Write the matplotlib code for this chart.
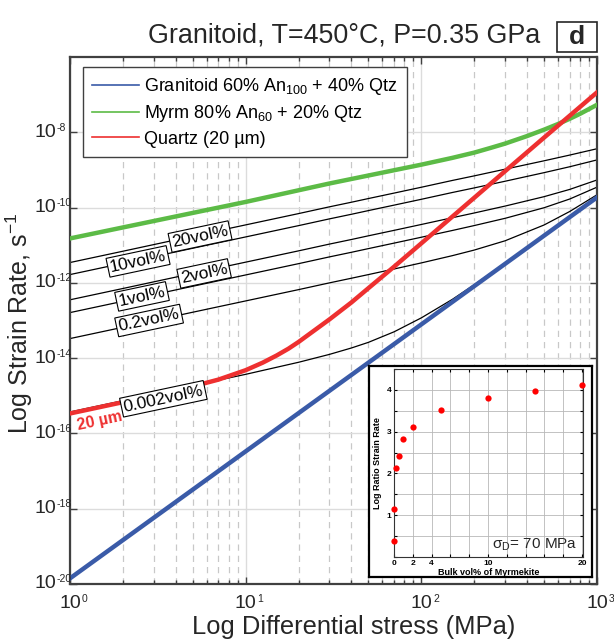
import numpy as np
import matplotlib
matplotlib.use('Agg')
import matplotlib.pyplot as plt
from matplotlib.lines import Line2D
from matplotlib.ticker import NullFormatter, LogLocator, FixedLocator

plt.rcParams['font.family'] = ['Liberation Sans', 'DejaVu Sans']
plt.rcParams['mathtext.fontset'] = 'custom'
plt.rcParams['mathtext.rm'] = 'Liberation Sans'
plt.rcParams['mathtext.it'] = 'Liberation Sans:italic'
plt.rcParams['mathtext.bf'] = 'Liberation Sans:bold'

# differential stress (MPa) and log10 strain rate
granitoid_stress = [1, 1000]
granitoid_log = [-19.85, -9.73]

myrm_stress = [1, 10, 30, 100, 150, 200, 250, 300, 400, 500, 600, 700, 800, 1000]
myrm_log = [-10.82, -9.85, -9.36, -8.86, -8.68, -8.54, -8.41, -8.30, -8.10, -7.93, -7.78, -7.64, -7.51, -7.27]

quartz_stress = [1, 2, 3, 5, 7, 10, 12.5, 15, 17.5, 20, 25, 30, 40, 50, 70, 100, 200, 500, 1000]
quartz_log = [-15.47, -15.17, -14.99, -14.75, -14.57, -14.32, -14.12, -13.93, -13.75, -13.57,
              -13.24, -12.97, -12.52, -12.14, -11.57, -10.95, -9.74, -8.14, -6.94]

# mixtures with myrmekite (black curves)
mix_stress = [1, 2, 5, 10, 20, 30, 40, 50, 70, 100, 150, 200, 300, 500, 700, 1000]
vol_names = ['20vol%', '10vol%', '2vol%', '1vol%', '0.2vol%', '0.002vol%']
vol_log = [
    [-11.46, -11.16, -10.76, -10.46, -10.16, -9.98, -9.858, -9.76, -9.615, -9.46, -9.28, -9.158, -8.98, -8.757, -8.605, -8.437],
    [-11.78, -11.48, -11.08, -10.78, -10.48, -10.30, -10.178, -10.08, -9.935, -9.78, -9.60, -9.478, -9.30, -9.072, -8.915, -8.734],
    [-12.45, -12.15, -11.75, -11.45, -11.15, -10.97, -10.848, -10.75, -10.605, -10.449, -10.27, -10.144, -9.96, -9.71, -9.517, -9.267],
    [-12.79, -12.49, -12.09, -11.79, -11.49, -11.31, -11.188, -11.09, -10.944, -10.788, -10.609, -10.478, -10.285, -10.004, -9.772, -9.458],
    [-13.48, -13.18, -12.78, -12.48, -12.18, -12.00, -11.877, -11.78, -11.631, -11.47, -11.278, -11.129, -10.882, -10.462, -10.103, -9.66],
    [-15.43, -15.13, -14.73, -14.43, -14.11, -13.90, -13.73, -13.58, -13.30, -12.93, -12.44, -12.05, -11.48, -10.74, -10.25, -9.72],
]
# label anchor (stress, log rate)
vol_label_x = [5.5, 2.44, 5.8, 2.57, 2.82, 3.4]
vol_label_logy = [-10.77, -11.43, -11.75, -12.36, -13.0, -15.08]

# inset: bulk vol% of myrmekite vs log ratio of strain rate
inset_vol = [0.002, 0.02, 0.2, 0.5, 1, 2, 5, 10, 15, 20]
inset_ratio = [0.38, 1.14, 2.12, 2.42, 2.82, 3.10, 3.51, 3.81, 3.98, 4.11]

BLUE = '#3a5ba8'
GREEN = '#5cbb46'
RED = '#ee3030'
GREY = '#404040'

W, H = 614, 642
fig = plt.figure(figsize=(W / 100, H / 100), dpi=100)


def fx(px):
    return px / W


def fy(py):
    return 1 - py / H


ax = fig.add_axes([fx(70), fy(584), fx(597) - fx(70), fy(57) - fy(584)])
ax.set_xscale('log')
ax.set_yscale('log')
ax.set_xlim(1, 1000)
ax.set_ylim(1e-20, 1e-6)

# grid
ax.xaxis.set_major_locator(FixedLocator([1, 10, 100, 1000]))
ax.xaxis.set_minor_locator(LogLocator(base=10, subs=np.arange(2, 10)))
ax.yaxis.set_major_locator(FixedLocator([10.0 ** e for e in range(-20, -7, 2)]))
ax.yaxis.set_minor_locator(FixedLocator([]))
ax.xaxis.set_major_formatter(NullFormatter())
ax.xaxis.set_minor_formatter(NullFormatter())
ax.yaxis.set_major_formatter(NullFormatter())
ax.grid(True, which='major', color='#dcdcdc', lw=1.0, ls='-')
ax.grid(True, which='minor', axis='x', color='#c8c8c8', lw=0.9, ls=(0, (5, 4)))
ax.set_axisbelow(True)
ax.tick_params(which='both', direction='in', top=True, right=True, color=GREY, width=1.0)
ax.tick_params(which='major', length=5)
ax.tick_params(which='minor', length=3)
for s in ax.spines.values():
    s.set_color(GREY)
    s.set_linewidth(1.6)

# black mixture curves
for vals in vol_log:
    ax.plot(mix_stress, 10.0 ** np.array(vals), color='black', lw=0.9, zorder=2)

ax.plot(granitoid_stress, 10.0 ** np.array(granitoid_log), color=BLUE, lw=3.2, zorder=3)
ax.plot(myrm_stress, 10.0 ** np.array(myrm_log), color=GREEN, lw=3.2, zorder=3)
ax.plot(quartz_stress, 10.0 ** np.array(quartz_log), color=RED, lw=3.2, zorder=3)

for name, x, ly in zip(vol_names, vol_label_x, vol_label_logy):
    ax.text(x, 10.0 ** ly, name, fontsize=12.5, rotation=12, rotation_mode='anchor',
            ha='center', va='center', zorder=6,
            bbox=dict(boxstyle='square,pad=0.12', fc='white', ec='black', lw=0.8))

ax.text(1.48, 10.0 ** -15.66, '20 µm', color=RED, fontsize=11.5, fontweight='bold',
        rotation=12, rotation_mode='anchor', ha='center', va='center', zorder=6)

# tick labels as 10 with small exponent
for e in range(-20, -7, 2):
    t = ax.annotate('10', xy=(0, 10.0 ** e), xycoords=('axes fraction', 'data'),
                    xytext=(-14, 0), textcoords='offset pixels', ha='right', va='center',
                    fontsize=14, color='#262626', annotation_clip=False)
    ax.annotate(str(e), xy=(1, 1), xycoords=t, xytext=(1, 1), textcoords='offset pixels',
                ha='left', va='top', fontsize=7.5, color='#262626', annotation_clip=False)
for e in range(0, 4):
    t = ax.annotate('10', xy=(10.0 ** e, 0), xycoords=('data', 'axes fraction'),
                    xytext=(0, -20), textcoords='offset pixels', ha='center', va='center',
                    fontsize=14, color='#262626', annotation_clip=False)
    ax.annotate(str(e), xy=(1, 1), xycoords=t, xytext=(1, 1), textcoords='offset pixels',
                ha='left', va='top', fontsize=7.5, color='#262626', annotation_clip=False)

fig.text(fx(354), fy(627), 'Log Differential stress (MPa)', fontsize=18.4,
         ha='center', va='center', color='#262626')
fig.text(fx(19), fy(323), 'Log Strain Rate, s$^{-1}$', fontsize=18, rotation=90,
         ha='center', va='center', color='#262626')

handles = [Line2D([], [], color=BLUE, lw=1.2), Line2D([], [], color=GREEN, lw=1.2),
           Line2D([], [], color=RED, lw=1.2)]
labels = ['Granitoid 60% An$_{100}$ + 40% Qtz', 'Myrm 80% An$_{60}$ + 20% Qtz', 'Quartz (20 µm)']
leg = ax.legend(handles, labels, loc='upper left', bbox_to_anchor=(13 / 527, (584 - 67) / 527),
                borderaxespad=0, fontsize=13, fancybox=False, framealpha=1, edgecolor=GREY,
                handlelength=2.6, handletextpad=0.3, labelspacing=0.35, borderpad=0.5)
leg.get_frame().set_linewidth(1.0)
leg.set_zorder(7)

# title and panel letter
fig.text(fx(344), fy(35), 'Granitoid, T=450°C, P=0.35 GPa', fontsize=19.4,
         ha='center', va='center', color='#262626')
fig.add_artist(plt.Rectangle((fx(557), fy(52)), fx(40), 30 / H, transform=fig.transFigure,
                             fc='white', ec='#262626', lw=1.2))
fig.text(fx(577), fy(37), 'd', fontsize=19, fontweight='bold', ha='center', va='center',
         color='#262626')

# inset
frame = fig.add_axes([fx(369), fy(577), fx(592) - fx(369), fy(366) - fy(577)], zorder=5)
frame.set_xticks([])
frame.set_yticks([])
frame.set_facecolor('white')
for s in frame.spines.values():
    s.set_color('black')
    s.set_linewidth(1.6)

ins = fig.add_axes([fx(394), fy(557), fx(583) - fx(394), fy(369) - fy(557)], zorder=6)
ins.plot(inset_vol, inset_ratio, 'o', color='#ff0000', ms=4.5, mec='none', clip_on=False, zorder=3)
ins.set_xlim(0, 20.1)
ins.set_ylim(0, 4.5)
ins.set_xticks(np.arange(0, 21, 2))
ins.set_xticklabels(['0', '2', '4', '', '', '10', '', '', '', '', '20'])
ins.set_yticks(np.arange(0, 4.51, 0.5))
ins.set_yticklabels(['', '', '1', '', '2', '', '3', '', '4', ''])
ins.grid(True, color='#b8b8b8', lw=0.6)
ins.set_axisbelow(True)
ins.tick_params(direction='in', length=2, labelsize=6, pad=2, top=True, right=True)
for lab in ins.get_xticklabels() + ins.get_yticklabels():
    lab.set_fontweight('bold')
for s in ins.spines.values():
    s.set_color('#333333')
    s.set_linewidth(0.8)
ins.set_xlabel('Bulk vol% of Myrmekite', fontsize=6.5, fontweight='bold', labelpad=1)
ins.set_ylabel('Log Ratio Strain Rate', fontsize=6.5, fontweight='bold', labelpad=3)
ins.text(0.746, 0.063, 'σ$_\\mathrm{D}$= 70 MPa', transform=ins.transAxes, fontsize=11,
         ha='center', va='center', color='#262626')

fig.savefig('out.png', dpi=100)
